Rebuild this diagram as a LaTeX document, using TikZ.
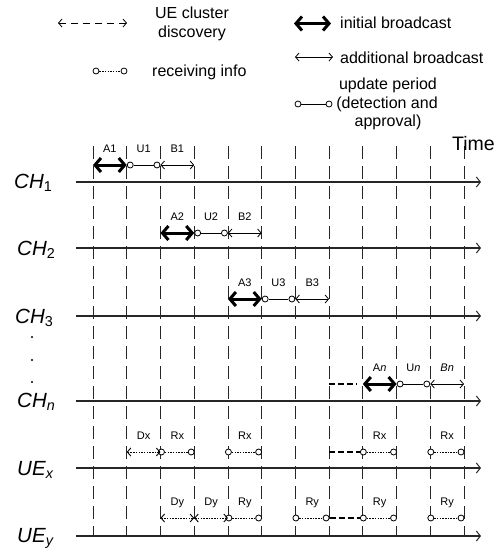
\documentclass[tikz,border=0pt]{standalone}
\usepackage{fontspec}
\setmainfont{Liberation Sans}
\usetikzlibrary{arrows.meta,calc}
\newcommand{\chlab}[2]{\textit{#1}\textsubscript{#2}}
\begin{document}
\begin{tikzpicture}[x=1pt,y=-1pt,
  gridline/.style={line width=0.8pt, dash pattern=on 13pt off 7pt, black!85},
  axis/.style={line width=1.2pt, black!85, -{Straight Barb[length=4pt,width=10pt,line width=1pt]}},
  initb/.style={line width=3pt, {Straight Barb[length=6pt,width=14pt]}-{Straight Barb[length=6pt,width=14pt]}},
  addb/.style={line width=0.8pt, {Straight Barb[length=3.5pt,width=8pt]}-{Straight Barb[length=3.5pt,width=8pt]}},
  upd/.style={line width=0.8pt},
  recv/.style={line width=0.9pt, dash pattern=on 1.5pt off 1.2pt},
  disc/.style={line width=0.9pt, dash pattern=on 1.5pt off 1.2pt, {Straight Barb[length=3.5pt,width=8pt]}-{Straight Barb[length=3.5pt,width=8pt]}},
  legdisc/.style={line width=0.8pt, dash pattern=on 7pt off 5pt, {Straight Barb[length=3.5pt,width=8pt]}-{Straight Barb[length=3.5pt,width=8pt]}},
  gapline/.style={line width=2pt, dash pattern=on 6pt off 3pt},
  circ/.style={circle, draw, line width=0.8pt, fill=white, inner sep=0pt, minimum size=6pt},
  lab/.style={font=\fontsize{11}{13}\selectfont, inner sep=0pt, anchor=base},
  leg/.style={font=\fontsize{16}{18}\selectfont, inner sep=0pt},
  chl/.style={font=\fontsize{20.5}{24}\selectfont, inner sep=0pt, anchor=base west},
]
\useasboundingbox (0,0) rectangle (501,550);

% vertical time grid
\foreach \i in {0,...,11} {
  \coordinate (g\i t) at ({93+33.73*\i},146);
  \coordinate (g\i b) at ({93+33.73*\i},537);
  \draw[gridline] (g\i t) -- (g\i b);
}
% row coordinates
\foreach \r/\yy in {a/165,b/233,c/299,n/384,x/452,y/518} {
  \foreach \i in {0,...,11} {
    \coordinate (\r\i) at ({93+33.73*\i},\yy);
  }
}
% axes
\foreach \r/\yy in {A/182,B/248,C/316,N/401,X/468,Y/536} {
  \coordinate (\r s) at (76,\yy);
  \coordinate (\r e) at (481,\yy);
  \draw[axis] (\r s) -- (\r e);
}

% row labels
\node[chl] (lch1) at (14,188) {\chlab{CH}{1}};
\node[chl] (lch2) at (17,255) {\chlab{CH}{2}};
\node[chl] (lch3) at (15,323) {\chlab{CH}{3}};
\node[chl] (lchn) at (17,407) {\chlab{CH}{\textit{n}}};
\node[chl] (luex) at (17,475) {\chlab{UE}{\textit{x}}};
\node[chl] (luey) at (17,542) {\chlab{UE}{\textit{y}}};
\fill (32,337) circle (1.2);
\fill (32,360) circle (1.2);
\fill (32,382) circle (1.2);

\node[font=\fontsize{19.5}{22}\selectfont, anchor=base west, inner sep=0pt] (time) at (452,150) {Time};

% CH1
\draw[initb] (a0) -- (a1);
\node[circ] (ua1) at ($(a1)+(3.5,0)$) {};
\node[circ] (ua2) at ($(a2)+(-3.5,0)$) {};
\draw[upd] (ua1) -- (ua2);
\draw[addb] (a2) -- (a3);
\node[lab] (la1) at ($(a0)!.5!(a1)+(0,-13)$) {A1};
\node[lab] (lu1) at ($(a1)!.5!(a2)+(0,-13)$) {U1};
\node[lab] (lb1) at ($(a2)!.5!(a3)+(0,-13)$) {B1};

% CH2
\draw[initb] (b2) -- (b3);
\node[circ] (ub1) at ($(b3)+(3.5,0)$) {};
\node[circ] (ub2) at ($(b4)+(-3.5,0)$) {};
\draw[upd] (ub1) -- (ub2);
\draw[addb] (b4) -- (b5);
\node[lab] (la2) at ($(b2)!.5!(b3)+(0,-13)$) {A2};
\node[lab] (lu2) at ($(b3)!.5!(b4)+(0,-13)$) {U2};
\node[lab] (lb2) at ($(b4)!.5!(b5)+(0,-13)$) {B2};

% CH3
\draw[initb] (c4) -- (c5);
\node[circ] (uc1) at ($(c5)+(3.5,0)$) {};
\node[circ] (uc2) at ($(c6)+(-3.5,0)$) {};
\draw[upd] (uc1) -- (uc2);
\draw[addb] (c6) -- (c7);
\node[lab] (la3) at ($(c4)!.5!(c5)+(0,-13)$) {A3};
\node[lab] (lu3) at ($(c5)!.5!(c6)+(0,-13)$) {U3};
\node[lab] (lb3) at ($(c6)!.5!(c7)+(0,-13)$) {B3};

% CHn
\coordinate (n7e) at ($(n8)+(-6,0)$);
\draw[gapline] (n7) -- (n7e);
\draw[initb] (n8) -- (n9);
\node[circ] (un1) at ($(n9)+(3.5,0)$) {};
\node[circ] (un2) at ($(n10)+(-3.5,0)$) {};
\draw[upd] (un1) -- (un2);
\draw[addb] (n10) -- (n11);
\node[lab] (lan) at ($(n8)!.5!(n9)+(0,-13)$) {A\textit{n}};
\node[lab] (lun) at ($(n9)!.5!(n10)+(0,-13)$) {U\textit{n}};
\node[lab] (lbn) at ($(n10)!.5!(n11)+(0,-13)$) {\textit{Bn}};

% UEx
\node[circ] (rx1) at ($(x2)+(1,0)$) {};
\node[circ] (rx2) at ($(x3)+(-3,0)$) {};
\draw[recv] (rx1) -- (rx2);
\draw[disc] (x1) -- (x2);
\node[circ] (rx3) at ($(x4)+(0.5,0)$) {};
\node[circ] (rx4) at ($(x5)+(-3,0)$) {};
\draw[recv] (rx3) -- (rx4);
\node[circ] (rx5) at ($(x8)+(0.5,0)$) {};
\node[circ] (rx6) at ($(x9)+(-3,0)$) {};
\draw[recv] (rx5) -- (rx6);
\draw[gapline] (x7) -- (rx5);
\node[circ] (rx7) at ($(x10)+(0.5,0)$) {};
\node[circ] (rx8) at ($(x11)+(-3,0)$) {};
\draw[recv] (rx7) -- (rx8);
\node[lab] (ldx) at ($(x1)!.5!(x2)+(0,-13)$) {Dx};
\node[lab] (lrx1) at ($(x2)!.5!(x3)+(0,-13)$) {Rx};
\node[lab] (lrx2) at ($(x4)!.5!(x5)+(0,-13)$) {Rx};
\node[lab] (lrx3) at ($(x8)!.5!(x9)+(0,-13)$) {Rx};
\node[lab] (lrx4) at ($(x10)!.5!(x11)+(0,-13)$) {Rx};

% UEy
\node[circ] (ry1) at ($(y4)+(1,0)$) {};
\node[circ] (ry2) at ($(y5)+(-3,0)$) {};
\draw[recv] (ry1) -- (ry2);
\draw[disc] (y2) -- (y3);
\draw[disc] (y3) -- (y4);
\node[circ] (ry3) at ($(y6)+(0.5,0)$) {};
\node[circ] (ry4) at ($(y7)+(-3,0)$) {};
\draw[recv] (ry3) -- (ry4);
\node[circ] (ry5) at ($(y8)+(0.5,0)$) {};
\node[circ] (ry6) at ($(y9)+(-3,0)$) {};
\draw[recv] (ry5) -- (ry6);
\draw[gapline] (ry4) -- (ry5);
\node[circ] (ry7) at ($(y10)+(0.5,0)$) {};
\node[circ] (ry8) at ($(y11)+(-3,0)$) {};
\draw[recv] (ry7) -- (ry8);
\node[lab] (ldy1) at ($(y2)!.5!(y3)+(0,-13)$) {Dy};
\node[lab] (ldy2) at ($(y3)!.5!(y4)+(0,-13)$) {Dy};
\node[lab] (lry1) at ($(y4)!.5!(y5)+(0,-13)$) {Ry};
\node[lab] (lry2) at ($(y6)!.5!(y7)+(0,-13)$) {Ry};
\node[lab] (lry3) at ($(y8)!.5!(y9)+(0,-13)$) {Ry};
\node[lab] (lry4) at ($(y10)!.5!(y11)+(0,-13)$) {Ry};

% legend
\coordinate (l1a) at (58,23);
\coordinate (l1b) at (127,23);
\draw[legdisc] (l1a) -- (l1b);
\node[leg,anchor=base] (t1) at (192,18.5) {UE cluster};
\node[leg,anchor=base] (t1b) at (192,37.5) {discovery};

\coordinate (l2a) at (294,23.5);
\coordinate (l2b) at (331,23.5);
\draw[initb] (l2a) -- (l2b);
\node[leg,anchor=base west] (t2) at (340,28) {initial broadcast};

\coordinate (l3a) at (295,57);
\coordinate (l3b) at (333,57);
\draw[addb] (l3a) -- (l3b);
\node[leg,anchor=base west] (t3) at (340,63) {additional broadcast};

\node[circ] (lr1) at (96,71) {};
\node[circ] (lr2) at (124,71) {};
\draw[recv] (lr1) -- (lr2);
\node[leg,anchor=base west] (t4) at (152,76) {receiving info};

\node[circ] (lu1) at (298,104) {};
\node[circ] (lu2) at (329,104) {};
\draw[upd] (lu1) -- (lu2);
\node[leg,anchor=base] (t5a) at (388,89) {update period};
\node[leg,anchor=base] (t5b) at (387,108) {(detection and};
\node[leg,anchor=base] (t5c) at (388,126) {approval)};
\end{tikzpicture}
\end{document}
